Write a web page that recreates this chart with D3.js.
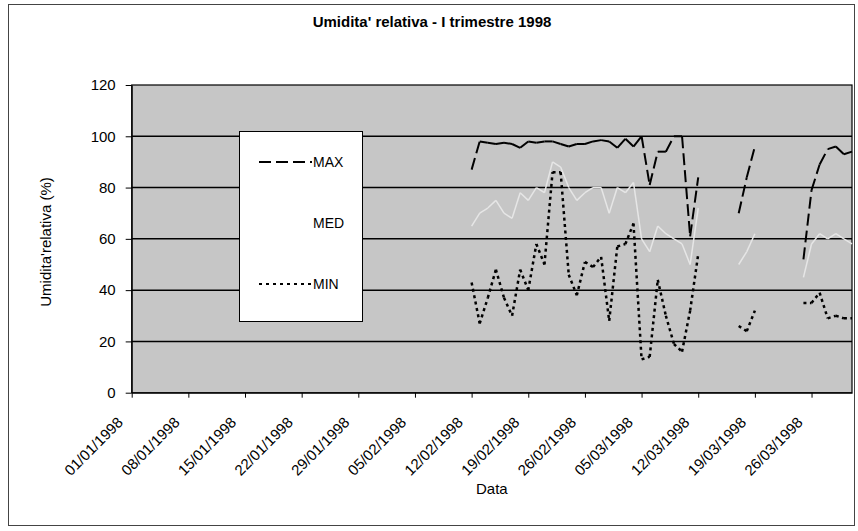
<!DOCTYPE html>
<html>
<head>
<meta charset="utf-8">
<script src="https://cdn.jsdelivr.net/npm/d3@7"></script>
<style>
body{margin:0;background:#fff;}
text{font-family:"Liberation Sans",Arial,sans-serif;fill:#000;}
</style>
</head>
<body>
<div id="main"></div>
<script>
// daily readings from 12/02/1998 to 31/03/1998 (null = no data)
var max_values = [87,98,97.5,97,97.5,97,95.5,98,97.5,98,98,97,96,97,97,98,98.5,98,95.5,99,96,100,
	81,94,94,100,100,61,84,null,null,null,null,70,84,96,null,null,null,null,null,52,79,89,95,96,93,94];
var med_values = [65,70,72,75,70,68,78,75,80,78,90,88,80,75,78,80,80,70,80,78,82,60,
	55,65,62,60,58,50,72,null,null,null,null,50,55,62,null,null,null,null,null,45,58,62,60,62,60,58];
var min_values = [43,27,37,48,37,30,48,40,58,50,86,86,46,38,51,49,53,28,57,58,66,13,
	14,44,30,19,16,32,54,null,null,null,null,26,24,32,null,null,null,null,null,35,35,39,29,30,29,29];
var series_names = ["MAX","MED","MIN"];
var y_ticks = [0,20,40,60,80,100,120];

var width = 858, height = 531;
var plot = {left:131.7, right:852, top:85, bottom:392.7};
var font = "'Liberation Sans',Arial,sans-serif";

var days = d3.timeDay.range(new Date(1998,1,12), new Date(1998,3,1));
var week_ticks = d3.timeDay.range(new Date(1998,0,1), new Date(1998,2,31), 7);

var svg = d3.select("#main").append("svg")
	.attr("width",width).attr("height",height);

// chart frame
svg.append("rect").attr("x",8.5).attr("y",4.5).attr("width",846).attr("height",521)
	.attr("fill","#fff").attr("stroke","#444").attr("stroke-width",1);

var x = d3.scaleTime()
	.domain([new Date(1998,0,1), new Date(1998,2,31)])
	.range([plot.left, plot.right]);
var y = d3.scaleLinear().domain([0,120]).range([plot.bottom, plot.top]);

// plot area
svg.append("rect")
	.attr("x",plot.left).attr("y",plot.top)
	.attr("width",plot.right-plot.left).attr("height",plot.bottom-plot.top)
	.attr("fill","#c6c6c6");

svg.append("g").selectAll("line")
	.data(y_ticks.slice(1,-1)).enter()
	.append("line")
	.attr("x1",plot.left).attr("x2",plot.right)
	.attr("y1",function(d){return y(d);}).attr("y2",function(d){return y(d);})
	.attr("stroke","#000").attr("stroke-width",1.5);

svg.append("rect")
	.attr("x",plot.left).attr("y",plot.top)
	.attr("width",plot.right-plot.left).attr("height",plot.bottom-plot.top)
	.attr("fill","none").attr("stroke","#000").attr("stroke-width",1.2);

// axes
var y_axis = svg.append("g")
	.attr("transform","translate("+plot.left+",0)")
	.call(d3.axisLeft(y).tickValues(y_ticks).tickSize(6).tickPadding(10).tickSizeOuter(0));
y_axis.select(".domain").attr("stroke","#000");
y_axis.selectAll("text").style("font-size","15px").style("font-family",font);

var x_axis = svg.append("g")
	.attr("transform","translate(0,"+plot.bottom+")")
	.call(d3.axisBottom(x).tickValues(week_ticks).tickSize(5).tickSizeOuter(0)
		.tickFormat(d3.timeFormat("%d/%m/%Y")));
x_axis.select(".domain").attr("stroke","#000");
x_axis.selectAll("text")
	.style("font-size","15px").style("font-family",font)
	.attr("text-anchor","end")
	.attr("y",0).attr("dy","0.35em")
	.attr("transform","translate(-12,27) rotate(-45)");

svg.append("text").attr("x",432).attr("y",27).attr("text-anchor","middle")
	.style("font-size","15px").style("font-weight","bold")
	.text("Umidita' relativa - I trimestre 1998");

svg.append("text").attr("x",(plot.left+plot.right)/2).attr("y",494).attr("text-anchor","middle")
	.style("font-size","15px").text("Data");

svg.append("text").attr("transform","translate(51,242) rotate(-90)")
	.attr("text-anchor","middle").style("font-size","15px")
	.text("Umidita'relativa (%)");

// each segment gets its own path so the dash pattern restarts like in the original
function segments(values){
	var segs = [];
	for (var i=1;i<values.length;i++){
		if (values[i-1]!=null && values[i]!=null)
			segs.push([[days[i-1],values[i-1]],[days[i],values[i]]]);
	}
	return segs;
}

var line = d3.line()
	.x(function(d){return x(d[0]);})
	.y(function(d){return y(d[1]);});

function draw_series(values,cls,color,dash,w){
	svg.append("g").attr("class",cls).selectAll("path")
		.data(segments(values)).enter()
		.append("path")
		.attr("d",line)
		.attr("fill","none")
		.attr("stroke",color)
		.attr("stroke-width",w)
		.attr("stroke-dasharray",dash);
}

draw_series(med_values,"med","#e6e6e6",null,1.5);
draw_series(max_values,"max","#000","12,5",2);
draw_series(min_values,"min","#000","3,3.5",2.5);

// legend
var legend = svg.append("g");
legend.append("rect").attr("x",239.5).attr("y",131.5).attr("width",123).attr("height",190)
	.attr("fill","#fff").attr("stroke","#000").attr("stroke-width",1);
var legend_styles = [{color:"#000",dash:"12,5",w:2},{color:"#fff",dash:null,w:2},{color:"#000",dash:"3,4",w:2}];
var legend_rows = legend.selectAll("g.row")
	.data(series_names).enter()
	.append("g").attr("class","row")
	.attr("transform",function(d,i){return "translate(0,"+(162+i*61)+")";});
legend_rows.append("line")
	.attr("x1",259).attr("x2",312).attr("y1",0).attr("y2",0)
	.attr("stroke",function(d,i){return legend_styles[i].color;})
	.attr("stroke-width",function(d,i){return legend_styles[i].w;})
	.attr("stroke-dasharray",function(d,i){return legend_styles[i].dash;});
legend_rows.append("text").attr("x",313).attr("dy","0.35em")
	.style("font-size","14px").text(function(d){return d;});
</script>
</body>
</html>
